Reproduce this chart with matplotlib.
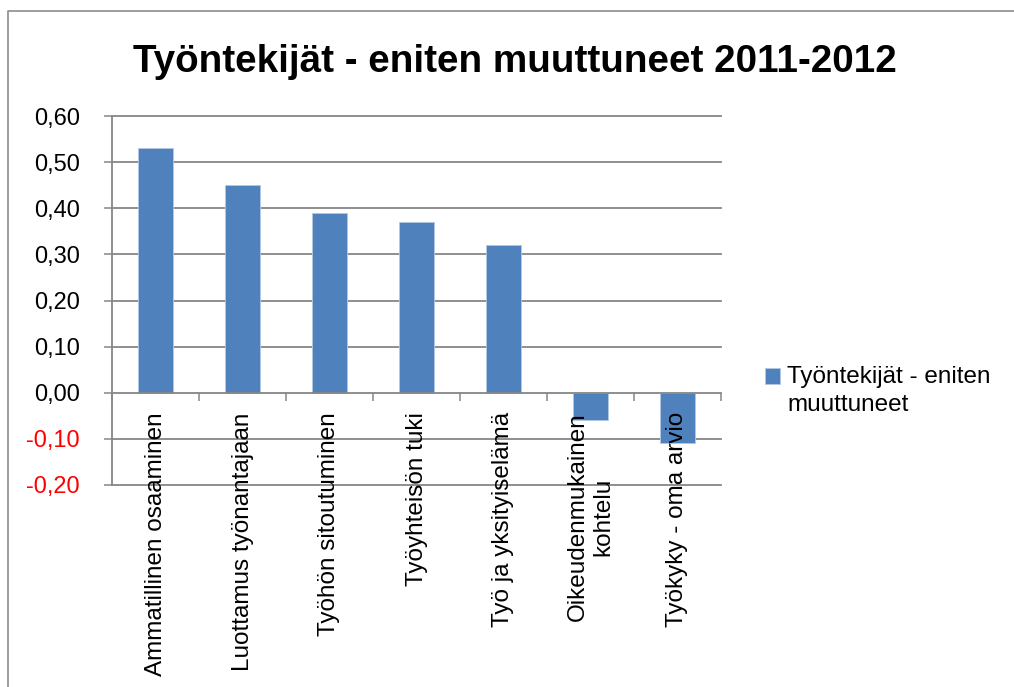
"""
Tyontekijat - eniten muuttuneet 2011-2012, pylvaskaavio
"""
import matplotlib
matplotlib.use('Agg')
import matplotlib.pyplot as plt
from matplotlib.lines import Line2D
from matplotlib.patches import Rectangle
from matplotlib.container import BarContainer
from matplotlib.legend_handler import HandlerPatch
from matplotlib.ticker import FuncFormatter

# Data
kategoriat = ['Ammatillinen osaaminen', 'Luottamus työnantajaan', 'Työhön sitoutuminen',
              'Työyhteisön tuki', 'Työ ja yksityiselämä', 'Oikeudenmukainen\nkohtelu',
              'Työkyky - oma arvio']
muutos = [0.53, 0.45, 0.39, 0.37, 0.32, -0.06, -0.11]
y_ticks = [-0.20, -0.10, 0.00, 0.10, 0.20, 0.30, 0.40, 0.50, 0.60]
otsikko = 'Työntekijät - eniten muuttuneet 2011-2012'
sarja = 'Työntekijät - eniten\nmuuttuneet'

plt.rcParams['font.family'] = ['Liberation Sans', 'DejaVu Sans']
harmaa = '#868686'
sininen = '#4F81BD'

fig = plt.figure(figsize=(10.14, 6.87), dpi=100)
ax = fig.add_axes([112/1014, 1 - 485/687, (721 - 112)/1014, (485 - 116)/687])

x = range(len(kategoriat))
ax.bar(x, muutos, width=0.40, color=sininen, edgecolor='#b3c8e2', linewidth=0.6,
       label=sarja, zorder=2)

ax.set_xlim(-0.5, len(kategoriat) - 0.5)
ax.set_ylim(-0.2, 0.6)
ax.set_yticks(y_ticks)
ax.yaxis.set_major_formatter(FuncFormatter(lambda v, p: f'{v:.2f}'.replace('.', ',').replace('-0,00', '0,00')))
ax.tick_params(axis='y', length=6, width=1.1, color=harmaa, pad=17, labelsize=17)
for lab, v in zip(ax.get_yticklabels(), y_ticks):
    if v < 0:
        lab.set_color('red')

# ruudukko pylvaiden alle, akseli ja nimet paalle
for v in y_ticks:
    if v != 0:
        ax.axhline(v, color=harmaa, linewidth=1.3, zorder=1, clip_on=False)
ax.set_axisbelow(False)

# x-akseli nollan kohdalla
for s in ['top', 'right']:
    ax.spines[s].set_visible(False)
ax.spines['bottom'].set_position(('data', 0))
ax.spines['bottom'].set_color(harmaa)
ax.spines['bottom'].set_linewidth(1.3)
ax.spines['left'].set_color(harmaa)
ax.spines['left'].set_linewidth(1.3)

ax.set_xticks(list(x))
ax.set_xticklabels(kategoriat, rotation=90, fontsize=17.5)
ax.set_xticks([i - 0.5 for i in range(len(kategoriat) + 1)], minor=True)
ax.tick_params(axis='x', which='major', length=0, pad=14)
ax.tick_params(axis='x', which='minor', length=5.5, width=1.1, color=harmaa, direction='out')

# Otsikko
fig.text(0.508, 1 - 72/687, otsikko, ha='center', va='baseline', fontsize=27.8, fontweight='bold')


# Selite: ruutu ensimmaisen rivin kohdalle
def ruutu(legend, orig_handle, xdescent, ydescent, width, height, fontsize):
    return Rectangle((-xdescent, -ydescent + 0.62 * fontsize), width, height)


leg = fig.legend(loc='center left', bbox_to_anchor=(765/1014, 1 - 391/687), frameon=False,
                 fontsize=17.5, handlelength=0.62, handleheight=0.62, handletextpad=0.3,
                 borderpad=0, borderaxespad=0, labelspacing=0.2,
                 handler_map={BarContainer: HandlerPatch(
                     patch_func=ruutu,
                     update_func=lambda h, orig: h.update_from(orig.patches[0]))})
for t in leg.get_texts():
    t.set_linespacing(1.32)

# Kehys
fig.add_artist(Line2D([8/1014, 8/1014, 1.0], [0.0, 1 - 11/687, 1 - 11/687],
                      transform=fig.transFigure, color='#8c8c8c', linewidth=1.2))

fig.savefig('out.png', dpi=100)
